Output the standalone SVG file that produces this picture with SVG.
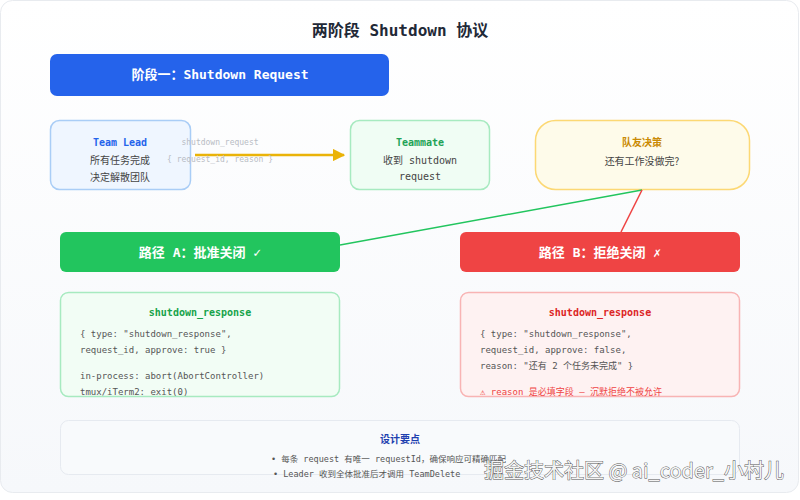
<svg xmlns="http://www.w3.org/2000/svg" width="800" height="500" viewBox="0 0 800 500">
<defs>
<linearGradient id="bg" x1="0" y1="0" x2="0" y2="1"><stop offset="0" stop-color="#ffffff"/><stop offset="1" stop-color="#f6f8fb"/></linearGradient>
<marker id="ah" viewBox="0 0 10 10" refX="9" refY="5" markerWidth="5" markerHeight="5" orient="auto" markerUnits="strokeWidth"><path d="M0,0 L10,5 L0,10 z" fill="#eab308"/></marker>
<style>
.cn{font-family:"Noto Sans CJK SC","Noto Sans",sans-serif}
.mono{font-family:"DejaVu Sans Mono","Noto Sans CJK SC",monospace}
.c{text-anchor:middle}
.ttl{font-size:10px;font-weight:bold}
.body{font-size:10px;fill:#444}
.code{font-size:9px;fill:#555}
.bar{font-size:13px;font-weight:bold;fill:#fff}
.lbl{font-size:8px;fill:#b8bcc4}
</style>
</defs>
<rect x="0.5" y="0.5" width="798" height="492" rx="12" fill="url(#bg)" stroke="#e8ebef"/>
<text x="400" y="36" class="mono c" font-size="16" font-weight="bold" fill="#1f2937">两阶段 Shutdown  协议</text>

<g id="phase1">
<rect x="50" y="54" width="339" height="42" rx="7" fill="#2563eb"/>
<text x="220" y="79" class="mono c bar">阶段一：Shutdown Request</text>
</g>

<g id="teamlead">
<rect x="50.5" y="120.5" width="140" height="69" rx="9" fill="#eff6ff" stroke="#a9cdf6" stroke-width="1.5"/>
<text x="120" y="146" class="mono c ttl" fill="#2563eb">Team Lead</text>
<text x="120" y="164" class="cn c body">所有任务完成</text>
<text x="120" y="181" class="cn c body">决定解散团队</text>
</g>

<g id="teammate">
<rect x="350.5" y="120.5" width="139" height="69" rx="9" fill="#f0fdf4" stroke="#a7eac0" stroke-width="1.5"/>
<text x="420" y="146" class="mono c ttl" fill="#22a356">Teammate</text>
<text x="420" y="164" class="mono c body" font-size="9.5">收到 shutdown</text>
<text x="420" y="180" class="mono c body" font-size="9.5">request</text>
</g>

<g id="decision">
<rect x="535.5" y="120.5" width="214" height="69" rx="20" fill="#fefbea" stroke="#fcd874" stroke-width="1.5"/>
<text x="642" y="146" class="cn c ttl" fill="#ca8a04">队友决策</text>
<text x="642" y="165" class="cn c body">还有工作没做完?</text>
</g>

<g id="connectors">
<line x1="195" y1="155" x2="344" y2="155" stroke="#eab308" stroke-width="2.5" marker-end="url(#ah)"/>
<text x="220" y="145" class="mono c lbl">shutdown_request</text>
<text x="220" y="162" class="mono c lbl">{ request_id, reason }</text>
<line x1="642" y1="190" x2="340" y2="245" stroke="#22c55e" stroke-width="1.5"/>
<line x1="642" y1="190" x2="621" y2="232" stroke="#ef4444" stroke-width="1.5"/>
</g>

<g id="pathA">
<rect x="60" y="232" width="280" height="40" rx="6" fill="#22c55e"/>
<text x="200" y="257" class="mono c bar">路径 A：批准关闭 ✓</text>
</g>

<g id="pathB">
<rect x="460" y="232" width="280" height="40" rx="6" fill="#ef4444"/>
<text x="600" y="257" class="mono c bar">路径 B：拒绝关闭 ✗</text>
</g>

<g id="respA">
<rect x="60.5" y="292.5" width="279" height="104" rx="8" fill="#f2fdf5" stroke="#a7eac0" stroke-width="1.5"/>
<text x="200" y="316" class="mono c ttl" fill="#16a34a">shutdown_response</text>
<text x="80" y="337" class="mono code">{ type: "shutdown_response",</text>
<text x="80" y="353" class="mono code">request_id, approve: true }</text>
<text x="80" y="379" class="mono code">in-process: abort(AbortController)</text>
<text x="80" y="395" class="mono code">tmux/iTerm2: exit(0)</text>
</g>

<g id="respB">
<rect x="460.5" y="292.5" width="279" height="104" rx="8" fill="#fef2f2" stroke="#f8b4b4" stroke-width="1.5"/>
<text x="600" y="316" class="mono c ttl" fill="#dc2626">shutdown_response</text>
<text x="480" y="337" class="mono code">{ type: "shutdown_response",</text>
<text x="480" y="353" class="mono code">request_id, approve: false,</text>
<text x="480" y="369" class="mono code">reason: "还有 2 个任务未完成" }</text>
<text x="480" y="395" class="mono code" style="fill:#ef4444">⚠ reason 是必填字段 — 沉默拒绝不被允许</text>
</g>

<g id="notes">
<rect x="60.5" y="420.5" width="679" height="54" rx="8" fill="#f8fafc" stroke="#e6eaf0"/>
<text x="400" y="443" class="cn c ttl" fill="#1e40af">设计要点</text>
<text x="271" y="462" class="mono" font-size="8.5" fill="#555">• 每条 request 有唯一 requestId，确保响应可精确匹配</text>
<text x="273" y="477" class="mono" font-size="8.5" fill="#555">• Leader 收到全体批准后才调用 TeamDelete</text>
</g>

<text x="784" y="478" text-anchor="end" class="cn" font-size="20" fill="#f4f4f4" stroke="#555" stroke-width="0.9" paint-order="stroke">掘金技术社区 @ ai_coder_小村儿</text>
</svg>
